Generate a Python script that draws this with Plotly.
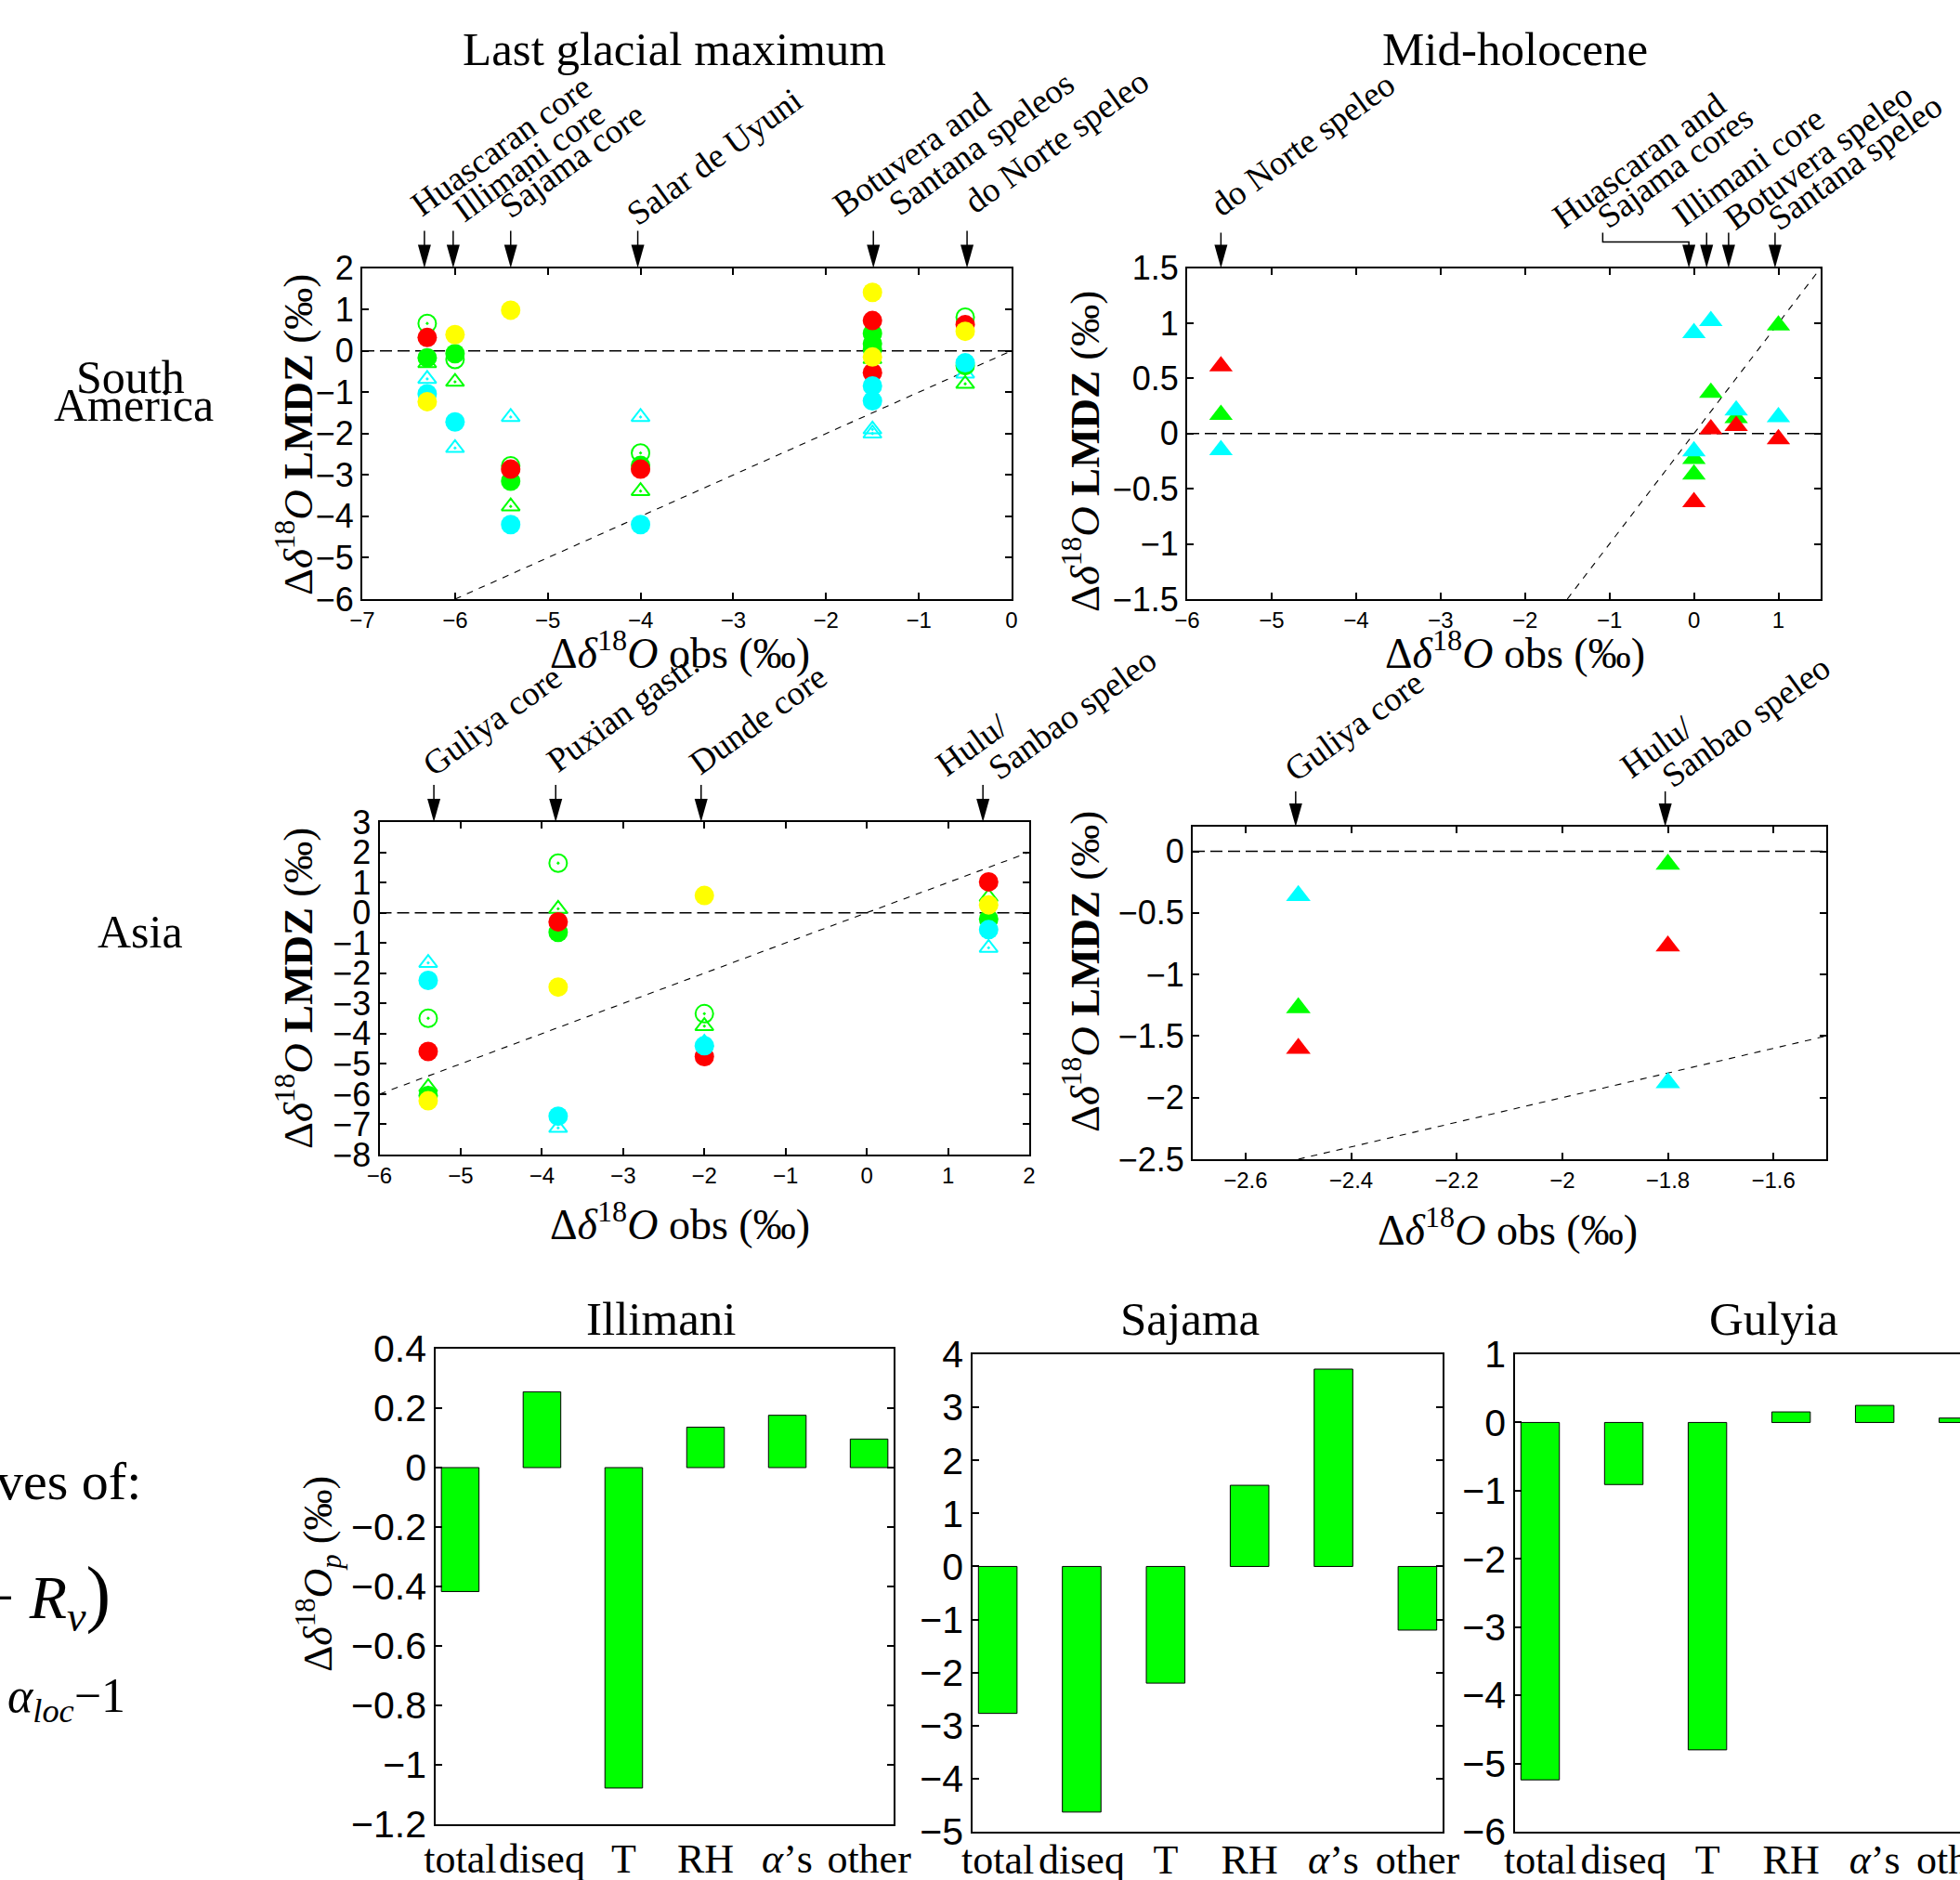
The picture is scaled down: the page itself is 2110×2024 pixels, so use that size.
import math
import plotly.graph_objects as go

W, H = 2110, 2024
SERIF = "Liberation Serif, Times New Roman, serif"
SANS = "Liberation Sans, Arial, sans-serif"
RED, GREEN, YELLOW, CYAN = "#ff0000", "#00ff00", "#ffff00", "#00ffff"

# ---------------- DATA ----------------
# LGM, South America (panel 1)
lgm_sa_site_x = [-6.33, -6.02, -5.40, -4.03, -1.49, -0.48]
lgm_sa_labels = ["Huascaran core", "Illimani core", "Sajama core", "Salar de Uyuni",
                 "Botuvera and", "Santana speleos", "do Norte speleo"]
lgm_sa_red_x = [-6.3, -5.4, -4.0, -1.5, -1.5, -0.5]
lgm_sa_red_y = [0.32, -2.86, -2.86, 0.73, -0.53, 0.63]
lgm_sa_green_x = [-6.3, -6.0, -5.4, -4.0, -1.5, -1.5, -1.5, -0.5]
lgm_sa_green_y = [-0.17, -0.07, -3.15, -2.77, 0.42, 0.17, 0.03, -0.36]
lgm_sa_yellow_x = [-6.3, -6.0, -5.4, -1.5, -1.5, -0.5]
lgm_sa_yellow_y = [-1.23, 0.39, 0.98, 1.41, -0.15, 0.47]
lgm_sa_cyan_x = [-6.3, -6.0, -5.4, -4.0, -1.5, -1.5, -0.5]
lgm_sa_cyan_y = [-1.04, -1.72, -4.20, -4.20, -0.85, -1.21, -0.29]
lgm_sa_green_oc_x = [-6.3, -6.0, -5.4, -4.0, -0.5]
lgm_sa_green_oc_y = [0.66, -0.21, -2.78, -2.47, 0.81]
lgm_sa_green_ot_x = [-6.3, -6.0, -5.4, -4.0, -1.5, -0.5]
lgm_sa_green_ot_y = [-0.30, -0.75, -3.76, -3.39, -0.20, -0.80]
lgm_sa_cyan_ot_x = [-6.3, -6.0, -5.4, -4.0, -1.5, -1.5, -0.5]
lgm_sa_cyan_ot_y = [-0.68, -2.35, -1.60, -1.60, -1.90, -2.00, -0.55]

# Mid-holocene, South America (panel 2)
mh_sa_site_x = [-5.6, -0.06, 0.15, 0.41, 0.96]
mh_sa_labels = ["do Norte speleo", "Huascaran and", "Sajama cores", "Illimani core",
                "Botuvera speleo", "Santana speleo"]
mh_sa_red_x = [-5.6, 0.0, 0.2, 0.5, 1.0]
mh_sa_red_y = [0.61, -0.62, 0.04, 0.07, -0.05]
mh_sa_green_x = [-5.6, 0.0, 0.0, 0.2, 0.5, 1.0]
mh_sa_green_y = [0.17, -0.23, -0.37, 0.37, 0.14, 0.98]
mh_sa_cyan_x = [-5.6, 0.0, 0.0, 0.2, 0.5, 1.0]
mh_sa_cyan_y = [-0.15, 0.91, -0.16, 1.02, 0.21, 0.15]

# LGM, Asia (panel 3)
lgm_as_site_x = [-5.33, -3.83, -2.04, 1.43]
lgm_as_labels = ["Guliya core", "Puxian gastr.", "Dunde core", "Hulu/", "Sanbao speleo"]
lgm_as_red_x = [-5.4, -3.8, -2.0, 1.5]
lgm_as_red_y = [-4.59, -0.30, -4.76, 1.02]
lgm_as_green_x = [-5.4, -3.8, 1.5]
lgm_as_green_y = [-6.05, -0.65, -0.21]
lgm_as_yellow_x = [-5.4, -3.8, -2.0, 1.5]
lgm_as_yellow_y = [-6.22, -2.46, 0.57, 0.26]
lgm_as_cyan_x = [-5.4, -3.8, -2.0, 1.5]
lgm_as_cyan_y = [-2.24, -6.73, -4.40, -0.56]
lgm_as_green_oc_x = [-5.4, -3.8, -2.0]
lgm_as_green_oc_y = [-3.49, 1.64, -3.34]
lgm_as_green_ot_x = [-5.4, -3.8, -2.0, 1.5]
lgm_as_green_ot_y = [-5.77, 0.13, -3.75, 0.52]
lgm_as_cyan_ot_x = [-5.4, -3.8, -2.0, 1.5]
lgm_as_cyan_ot_y = [-1.66, -7.12, -4.30, -1.16]

# Mid-holocene, Asia (panel 4)
mh_as_site_x = [-2.505, -1.805]
mh_as_labels = ["Guliya core", "Hulu/", "Sanbao speleo"]
mh_as_red_x = [-2.5, -1.8]
mh_as_red_y = [-1.60, -0.77]
mh_as_green_x = [-2.5, -1.8]
mh_as_green_y = [-1.27, -0.105]
mh_as_cyan_x = [-2.5, -1.8]
mh_as_cyan_y = [-0.36, -1.88]

# Bar charts (panels 5-7)
bar_cats = ["total", "diseq", "T", "RH", "alpha", "other"]
bar_ticktext = ["total", "diseq", "T", "RH", "<i>α</i>’s", "other"]
illimani_vals = [-0.417, 0.255, -1.078, 0.136, 0.176, 0.096]
sajama_vals = [-2.77, -4.63, -2.20, 1.53, 3.72, -1.20]
gulyia_vals = [-5.24, -0.91, -4.80, 0.155, 0.25, 0.065]

# ---------------- LAYOUT HELPERS ----------------
def fx(px):
    return px / W

def fy(py):
    return 1 - py / H

def sfx(n):
    return "" if n == 1 else str(n)

# panel frames in pixels: (x0, x1, y_top, y_bottom)
frames = {
    1: (390, 1089, 288.5, 645),
    2: (1278, 1960, 288.5, 645),
    3: (408.5, 1108, 885, 1243),
    4: (1284, 1966, 890, 1248),
    5: (469, 962, 1452, 1964),
    6: (1047, 1553, 1458, 1972),
    7: (1631, 2110, 1458, 1972),
}
xranges = {1: [-7, 0], 2: [-6, 1.5], 3: [-6, 2], 4: [-2.7, -1.5],
           5: [-0.3, 5.3], 6: [-0.3, 5.3], 7: [-0.3, 5.02]}
yranges = {1: [-6, 2], 2: [-1.5, 1.5], 3: [-8, 3], 4: [-2.5, 0.2],
           5: [-1.2, 0.4], 6: [-5, 4], 7: [-6, 1]}
xdticks = {1: 1, 2: 1, 3: 1, 4: 0.2}
ydticks = {1: 1, 2: 0.5, 3: 1, 4: 0.5, 5: 0.2, 6: 1, 7: 1}
bar_label_standoff = {5: -3, 6: -10, 7: -10}

fig = go.Figure()
layout = dict(width=W, height=H, autosize=False, margin=dict(l=0, r=0, t=0, b=0, pad=0),
              paper_bgcolor="white", plot_bgcolor="white", showlegend=False)

for n, (x0, x1, yt, yb) in frames.items():
    s = sfx(n)
    xa = dict(domain=[fx(x0), fx(x1)], range=xranges[n], anchor="y" + s, automargin=False,
              showline=True, linecolor="black", linewidth=2, mirror="ticks",
              showgrid=False, zeroline=False, ticks="inside", ticklen=7, tickwidth=1.5,
              tickcolor="black", tickangle=0,
              tickfont=dict(family=SANS, size=24, color="black"))
    ya = dict(domain=[fy(yb), fy(yt)], range=yranges[n], anchor="x" + s, automargin=False,
              showline=True, linecolor="black", linewidth=2, mirror="ticks",
              showgrid=False, zeroline=False, ticks="inside", ticklen=7, tickwidth=1.5,
              tickcolor="black", dtick=ydticks[n], tick0=0,
              tickfont=dict(family=SANS, size=36, color="black"))
    if n <= 4:
        xa.update(dtick=xdticks[n], tick0=0)
    else:
        xa.update(type="category", ticks="", tickvals=bar_cats, ticktext=bar_ticktext,
                  tickfont=dict(family=SERIF, size=44, color="black"),
                  ticklabelstandoff=bar_label_standoff[n], linewidth=1.5, mirror=True)
        ya.update(linewidth=1.5, tickfont=dict(family=SANS, size=41, color="black"))
        if n == 7:
            ya.update(mirror=False)
    layout["xaxis" + s] = xa
    layout["yaxis" + s] = ya


def add_pts(n, x, y, symbol, color, size, lw=0.0):
    s = sfx(n)
    fig.add_trace(go.Scatter(x=x, y=y, mode="markers", xaxis="x" + s, yaxis="y" + s,
                             marker=dict(symbol=symbol, color=color, size=size,
                                         line=dict(width=lw, color=color)),
                             showlegend=False, hoverinfo="skip"))


def add_ref_lines(n):
    s = sfx(n)
    xr, yr = xranges[n], yranges[n]
    fig.add_trace(go.Scatter(x=xr, y=[0, 0], mode="lines", xaxis="x" + s, yaxis="y" + s,
                             line=dict(color="black", width=1.5, dash="13px,6px"),
                             showlegend=False, hoverinfo="skip"))
    lo, hi = max(xr[0], yr[0]), min(xr[1], yr[1])
    fig.add_trace(go.Scatter(x=[lo, hi], y=[lo, hi], mode="lines", xaxis="x" + s, yaxis="y" + s,
                             line=dict(color="black", width=1.1, dash="7px,7px"),
                             showlegend=False, hoverinfo="skip"))


shapes = []
annotations = []


def add_arrow(n, xval, tail):
    s = sfx(n)
    ytop = fy(frames[n][2])
    shapes.append(dict(type="path", xref="x" + s, yref="paper", xsizemode="pixel",
                       ysizemode="pixel", xanchor=xval, yanchor=ytop,
                       path="M0,0 L-7,25 L7,25 Z", fillcolor="black",
                       line=dict(width=0), layer="above"))
    shapes.append(dict(type="line", xref="x" + s, yref="paper", xsizemode="pixel",
                       ysizemode="pixel", xanchor=xval, yanchor=ytop,
                       x0=0, x1=0, y0=24, y1=tail, line=dict(color="black", width=1.5),
                       layer="above"))


ANG = 36.0
LF = 37


def add_label(n, text, xval, dx, base_y):
    s = sfx(n)
    sn, cs = math.sin(math.radians(ANG)), math.cos(math.radians(ANG))
    d = 0.216 * LF + 1
    h = 1.107 * LF + 2
    annotations.append(dict(text=text, xref="x" + s, yref="paper", x=xval,
                            y=fy(base_y + d * cs), xanchor="left", yanchor="bottom",
                            xshift=dx + (d - h) * sn, textangle=-ANG, showarrow=False,
                            font=dict(family=SERIF, size=LF, color="black")))


def add_text(text, px, py, size, angle=0, xanchor="center", yanchor="middle", family=SERIF):
    annotations.append(dict(text=text, xref="paper", yref="paper", x=fx(px), y=fy(py),
                            xanchor=xanchor, yanchor=yanchor, textangle=angle,
                            showarrow=False, font=dict(family=family, size=size, color="black")))


# ---------------- PANEL 1 ----------------
add_ref_lines(1)
add_pts(1, lgm_sa_cyan_ot_x, lgm_sa_cyan_ot_y, "triangle-up-open-dot", CYAN, 17, 2)
add_pts(1, lgm_sa_green_ot_x, lgm_sa_green_ot_y, "triangle-up-open-dot", GREEN, 17, 2)
add_pts(1, lgm_sa_green_oc_x, lgm_sa_green_oc_y, "circle-open-dot", GREEN, 19, 2)
add_pts(1, lgm_sa_green_x, lgm_sa_green_y, "circle", GREEN, 21)
add_pts(1, lgm_sa_red_x, lgm_sa_red_y, "circle", RED, 21)
add_pts(1, lgm_sa_cyan_x, lgm_sa_cyan_y, "circle", CYAN, 21)
add_pts(1, lgm_sa_yellow_x, lgm_sa_yellow_y, "circle", YELLOW, 21)
for xv in lgm_sa_site_x:
    add_arrow(1, xv, 40)
lab1 = [(0, -5, 236), (1, 9, 242), (2, -2, 238), (3, -2, 246), (4, -34, 236), (4, 26, 236), (5, 6, 233)]
for text, (i, dx, by) in zip(lgm_sa_labels, lab1):
    add_label(1, text, lgm_sa_site_x[i], dx, by)

# ---------------- PANEL 2 ----------------
add_ref_lines(2)
add_pts(2, mh_sa_green_x, mh_sa_green_y, "triangle-up", GREEN, 22)
add_pts(2, mh_sa_red_x, mh_sa_red_y, "triangle-up", RED, 22)
add_pts(2, mh_sa_cyan_x, mh_sa_cyan_y, "triangle-up", CYAN, 22)
for xv in mh_sa_site_x:
    add_arrow(2, xv, 25 if xv == mh_sa_site_x[1] else 38)
# bent connector from the "Huascaran and Sajama cores" label to its arrow
conn_x = mh_sa_site_x[1] - 1.02
shapes.append(dict(type="path", xref="x2", yref="paper", ysizemode="pixel", yanchor=fy(frames[2][2]),
                   path=f"M{conn_x},38 L{conn_x},28 L{mh_sa_site_x[1]},28 L{mh_sa_site_x[1]},24",
                   line=dict(color="black", width=1.5), layer="above"))
lab2 = [(0, -2, 236), (1, -137, 249), (1, -89, 249), (2, -27, 247), (3, 5, 251), (4, 2, 252)]
for text, (i, dx, by) in zip(mh_sa_labels, lab2):
    add_label(2, text, mh_sa_site_x[i], dx, by)

# ---------------- PANEL 3 ----------------
add_ref_lines(3)
add_pts(3, lgm_as_cyan_ot_x, lgm_as_cyan_ot_y, "triangle-up-open-dot", CYAN, 17, 2)
add_pts(3, lgm_as_green_ot_x, lgm_as_green_ot_y, "triangle-up-open-dot", GREEN, 17, 2)
add_pts(3, lgm_as_green_oc_x, lgm_as_green_oc_y, "circle-open-dot", GREEN, 19, 2)
add_pts(3, lgm_as_green_x, lgm_as_green_y, "circle", GREEN, 21)
add_pts(3, lgm_as_red_x, lgm_as_red_y, "circle", RED, 21)
add_pts(3, lgm_as_cyan_x, lgm_as_cyan_y, "circle", CYAN, 21)
add_pts(3, lgm_as_yellow_x, lgm_as_yellow_y, "circle", YELLOW, 21)
for xv in lgm_as_site_x:
    add_arrow(3, xv, 40)
lab3 = [(0, -2, 839), (1, 0, 835), (2, -3, 837), (3, -41, 839), (3, 15, 843)]
for text, (i, dx, by) in zip(lgm_as_labels, lab3):
    add_label(3, text, lgm_as_site_x[i], dx, by)

# ---------------- PANEL 4 ----------------
add_ref_lines(4)
add_pts(4, mh_as_green_x, mh_as_green_y, "triangle-up", GREEN, 23)
add_pts(4, mh_as_red_x, mh_as_red_y, "triangle-up", RED, 23)
add_pts(4, mh_as_cyan_x, mh_as_cyan_y, "triangle-up", CYAN, 23)
for xv in mh_as_site_x:
    add_arrow(4, xv, 38)
lab4 = [(0, -2, 845), (1, -38, 841), (1, 6, 851)]
for text, (i, dx, by) in zip(mh_as_labels, lab4):
    add_label(4, text, mh_as_site_x[i], dx, by)

# ---------------- BAR PANELS ----------------
for n, vals in ((5, illimani_vals), (6, sajama_vals), (7, gulyia_vals)):
    s = sfx(n)
    fig.add_trace(go.Bar(x=bar_cats, y=vals, xaxis="x" + s, yaxis="y" + s, width=0.46,
                         marker=dict(color=GREEN, line=dict(color="black", width=1)),
                         showlegend=False, hoverinfo="skip"))

# ---------------- TEXT ----------------
XT = "Δ<i>δ</i><sup>18</sup><i>O</i> obs (‰)"
YT = "Δ<i>δ</i><sup>18</sup><i>O</i> <b>LMDZ</b> (‰)"
add_text("Last glacial maximum", 726, 53, 51)
add_text("Mid-holocene", 1631, 53, 51)
add_text("South", 140, 406, 50)
add_text("America", 144, 436, 50)
add_text("Asia", 151, 1003, 50)
for cx, cy in ((732, 700), (1631, 700), (732, 1315), (1623, 1321)):
    add_text(XT, cx, cy, 46)
for cx, cy in ((317, 468), (1164, 486), (317, 1064), (1164, 1046)):
    add_text(YT, cx, cy, 45, angle=-90)
add_text("Δ<i>δ</i><sup>18</sup><i>O</i><sub><i>p</i></sub> (‰)", 343, 1695, 44, angle=-90)
add_text("Illimani", 711, 1420, 51)
add_text("Sajama", 1281, 1420, 51)
add_text("Gulyia", 1909, 1420, 51)
add_text("ves of:", -6, 1594, 58, xanchor="left")
add_text("− <i>R</i><sub><i>v</i></sub><span style='font-size:80px'>)</span>", -24, 1718, 66,
         xanchor="left")
add_text("<i>α</i><sub><i>loc</i></sub>−1", 6, 1829, 52, xanchor="left")

layout["shapes"] = shapes
layout["annotations"] = annotations
fig.update_layout(**layout)
fig.write_html("out.html")
